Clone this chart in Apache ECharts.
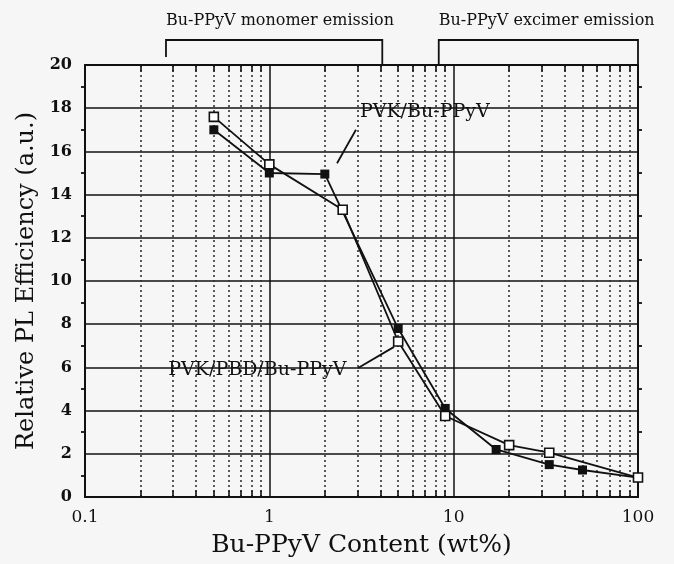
<!DOCTYPE html>
<html>
<head>
<meta charset="utf-8">
<script src="https://cdn.jsdelivr.net/npm/echarts@6/dist/echarts.min.js"></script>
<style>
  html, body { margin: 0; padding: 0; background: #f6f6f6; }
  #chart { width: 674px; height: 564px; }
</style>
</head>
<body>
<div id="chart"></div>
<script>
// PVK/Bu-PPyV (filled squares)
const contentFilled = [0.5, 1, 2, 5, 9, 17, 33, 50, 100];
const effFilled = [17.0, 15.0, 14.95, 7.8, 4.1, 2.2, 1.5, 1.25, 0.9];
// PVK/PBD/Bu-PPyV (open squares)
const contentOpen = [0.5, 1, 2.5, 5, 9, 20, 33, 100];
const effOpen = [17.6, 15.4, 13.3, 7.2, 3.75, 2.4, 2.05, 0.9];

const minorX = [0.2, 0.3, 0.4, 0.5, 0.6, 0.7, 0.8, 0.9,
  2, 3, 4, 5, 6, 7, 8, 9,
  20, 30, 40, 50, 60, 70, 80, 90];

const monomerRange = [0.275, 4.1];
const excimerRange = [8.3, 100];

const font = "DejaVu Serif";
const ink = "#111";

const chart = echarts.init(document.getElementById("chart"));

/** 次刻度: 点线 + 上下短刻度 */
function minorLines() {
  const out = [];
  minorX.forEach((v) => {
    out.push({ xAxis: v });
  });
  return out;
}
function minorTicks() {
  const out = [];
  minorX.forEach((v) => {
    out.push([{ coord: [v, 0] }, { coord: [v, 0.3] }]);
    out.push([{ coord: [v, 19.7] }, { coord: [v, 20] }]);
  });
  return out;
}

const option = {
  backgroundColor: "#f6f6f6",
  animation: false,
  grid: {
    left: 85,
    right: 36,
    top: 65,
    bottom: 67,
    show: true,
    borderColor: ink,
    borderWidth: 1.8,
    backgroundColor: "transparent",
  },
  xAxis: {
    type: "log",
    logBase: 10,
    min: 0.1,
    max: 100,
    name: "Bu-PPyV Content (wt%)",
    nameLocation: "middle",
    nameGap: 36,
    nameTextStyle: { fontFamily: font, fontSize: 25, color: ink },
    axisLine: { show: true, lineStyle: { color: ink, width: 1.8 } },
    axisTick: { show: false },
    axisLabel: {
      fontFamily: font,
      fontSize: 17,
      color: ink,
      margin: 12,
      formatter(v) {
        return String(v);
      },
    },
    splitLine: { show: true, lineStyle: { color: ink, width: 1.5 } },
  },
  yAxis: [
    {
      type: "value",
      min: 0,
      max: 20,
      interval: 2,
      name: "Relative PL Efficiency (a.u.)",
      nameLocation: "middle",
      nameGap: 46,
      nameTextStyle: { fontFamily: font, fontSize: 24, color: ink },
      axisLine: { show: true, lineStyle: { color: ink, width: 1.8 } },
      axisTick: { show: false },
      minorTick: { show: true, splitNumber: 2, length: 4, lineStyle: { color: ink, width: 1.8 } },
      axisLabel: { fontFamily: font, fontSize: 16, fontWeight: "bold", color: ink, margin: 13 },
      splitLine: { show: true, lineStyle: { color: ink, width: 1.5 } },
    },
    {
      type: "value",
      position: "right",
      min: 0,
      max: 20,
      interval: 2,
      axisLine: { show: true, lineStyle: { color: ink, width: 1.8 } },
      axisTick: { show: false },
      minorTick: { show: true, splitNumber: 2, length: 4, lineStyle: { color: ink, width: 1.8 } },
      axisLabel: { show: false },
      splitLine: { show: false },
    },
  ],
  series: [
    {
      // 次网格线
      type: "line",
      data: [],
      silent: true,
      markLine: {
        silent: true,
        symbol: "none",
        label: { show: false },
        lineStyle: { type: [2, 3], color: "#333", width: 1.6 },
        data: minorLines(),
      },
    },
    {
      type: "line",
      data: [],
      silent: true,
      markLine: {
        silent: true,
        symbol: "none",
        label: { show: false },
        lineStyle: { type: "solid", color: ink, width: 1.6 },
        data: minorTicks(),
      },
    },
    {
      name: "PVK/Bu-PPyV",
      type: "line",
      data: contentFilled.map((x, i) => [x, effFilled[i]]),
      symbol: "rect",
      symbolSize: 9,
      lineStyle: { color: ink, width: 1.8 },
      itemStyle: { color: ink },
      z: 5,
      markLine: {
        silent: true,
        symbol: "none",
        label: { show: false },
        lineStyle: { type: "solid", color: ink, width: 1.8 },
        data: [[{ coord: [2.95, 17.0] }, { coord: [2.33, 15.45] }]],
      },
    },
    {
      name: "PVK/PBD/Bu-PPyV",
      type: "line",
      data: contentOpen.map((x, i) => [x, effOpen[i]]),
      symbol: "rect",
      symbolSize: 9,
      lineStyle: { color: ink, width: 1.8 },
      itemStyle: { color: "#fff", borderColor: ink, borderWidth: 1.6 },
      z: 6,
      markLine: {
        silent: true,
        symbol: "none",
        label: { show: false },
        lineStyle: { type: "solid", color: ink, width: 1.8 },
        data: [[{ coord: [3.03, 5.97] }, { coord: [4.75, 6.95] }]],
      },
    },
  ],
};
chart.setOption(option);

/** 顶部括号与注释文字 */
function px(x, y) {
  return chart.convertToPixel({ gridIndex: 0 }, [x, y]);
}
function bracket(range, text, rightLegBottom, leftLegBottom) {
  const a = px(range[0], 20);
  const b = px(range[1], 20);
  return [
    {
      type: "polyline",
      shape: { points: [[a[0], leftLegBottom], [a[0], 40], [b[0], 40], [b[0], rightLegBottom]] },
      style: { stroke: ink, lineWidth: 1.8, fill: null },
    },
    {
      type: "text",
      x: a[0],
      y: 21,
      style: { text, fontFamily: font, fontSize: 16, fill: ink, textVerticalAlign: "middle" },
    },
  ];
}
const l1 = px(3.1, 17.8);
const l2 = px(0.283, 5.88);
chart.setOption({
  graphic: [
    ...bracket(monomerRange, "Bu-PPyV monomer emission", 64, 57),
    ...bracket(excimerRange, "Bu-PPyV excimer emission", 64, 64),
    {
      type: "text",
      x: l1[0],
      y: l1[1],
      style: { text: "PVK/Bu-PPyV", fontFamily: font, fontSize: 19, fill: ink, textVerticalAlign: "middle" },
      z: 10,
    },
    {
      type: "text",
      x: l2[0],
      y: l2[1],
      style: { text: "PVK/PBD/Bu-PPyV", fontFamily: font, fontSize: 19, fill: ink, textVerticalAlign: "middle" },
      z: 10,
    },
  ],
});
</script>
</body>
</html>
